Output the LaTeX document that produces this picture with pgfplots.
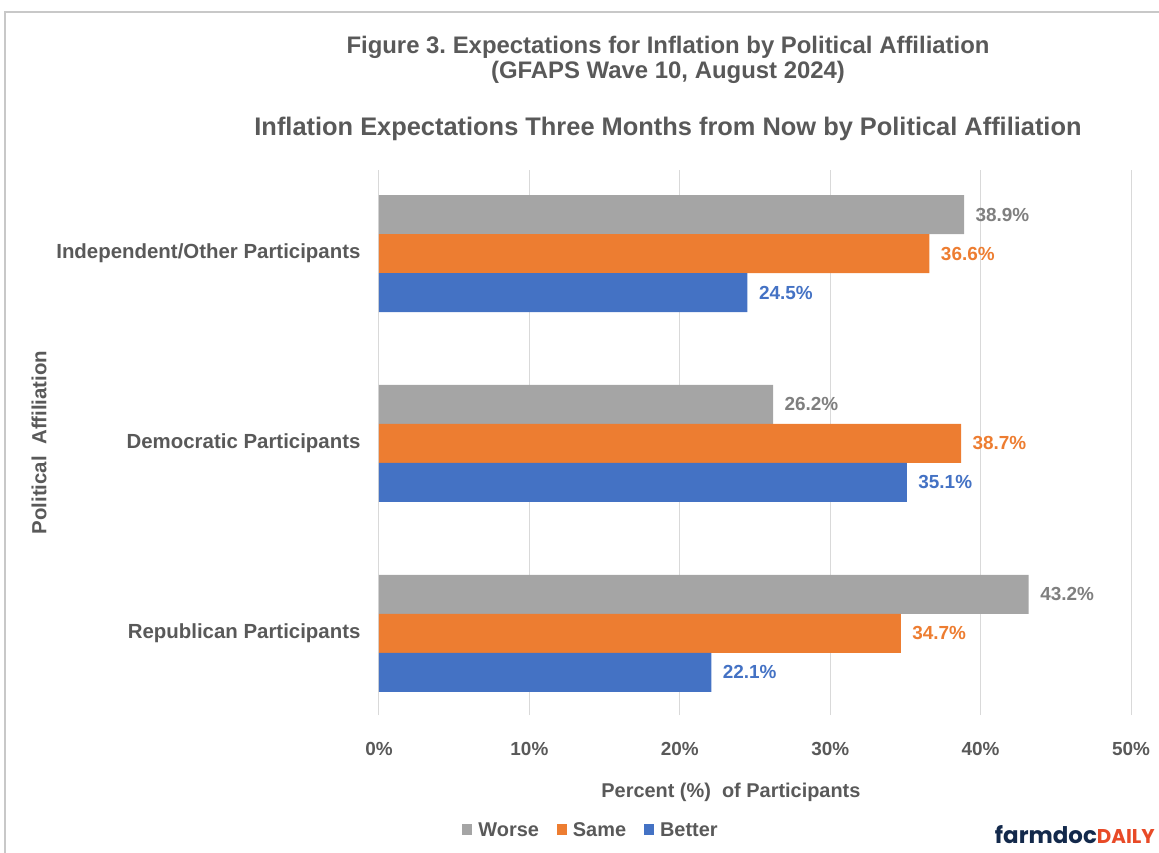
\documentclass[border=0pt]{standalone}
\usepackage{pgfplots}
\pgfplotsset{compat=1.18}
\usepackage{fontspec}
\setmainfont{Liberation Sans}
\newfontfamily\logofont{Poppins}
\definecolor{cworse}{HTML}{A5A5A5}
\definecolor{csame}{HTML}{ED7D31}
\definecolor{cbetter}{HTML}{4472C4}
\definecolor{ctxt}{HTML}{595959}
\definecolor{cworselab}{HTML}{7F7F7F}
\definecolor{cgrid}{HTML}{D9D9D9}
\definecolor{cframe}{HTML}{C8C8C8}
\definecolor{cnavy}{HTML}{13294B}
\definecolor{clogo}{HTML}{E84A27}
\frenchspacing
\begin{document}
\begin{tikzpicture}[x=1bp,y=1bp]
% pixel (px,py) -> (px-379, 715-py)
\useasboundingbox (-379,-138) rectangle (780,715);
\draw[cframe, line width=1.5bp] (-374,-140) -- (-374,703) -- (782,703);
\begin{axis}[
  at={(0,0)}, anchor=south west,
  scale only axis, width=752bp, height=545bp,
  xbar, bar width=39bp,
  xmin=0, xmax=50, ymin=-0.43, ymax=2.44,
  xtick={0,10,20,30,40,50},
  xticklabels={0\%,10\%,20\%,30\%,40\%,50\%},
  ytick={0,1,2},
  yticklabels={Republican Participants,Democratic Participants,Independent/Other Participants},
  axis line style={draw=none},
  major tick length=0pt,
  xmajorgrids, grid style={cgrid, line width=1bp},
  xticklabel style={font=\fontsize{19}{22}\selectfont\bfseries, text=ctxt, yshift=-24bp},
  yticklabel style={font=\fontsize{20.5}{24}\selectfont\bfseries, text=ctxt, xshift=-15bp},
  xlabel={Percent (\%)~ of Participants},
  xlabel style={font=\fontsize{20}{24}\selectfont\bfseries, text=ctxt, at={(rel axis cs:0.468,-0.142)}, anchor=center},
  ylabel={Political~ Affiliation},
  ylabel style={font=\fontsize{20.5}{24}\selectfont\bfseries, text=ctxt, at={(rel axis cs:-0.452,0.5)}, anchor=center, rotate=0},
  nodes near coords={\pgfmathprintnumber[fixed,precision=1,zerofill,assume math mode=true]{\pgfplotspointmeta}\%},
  nodes near coords style={font=\fontsize{19}{22}\selectfont\bfseries, anchor=west, xshift=8bp},
  legend columns=3,
  legend style={draw=none, at={(rel axis cs:0.282,-0.211)}, anchor=center,
    font=\fontsize{20}{24}\selectfont\bfseries, text=ctxt,
    /tikz/every odd column/.append style={column sep=4bp},
    /tikz/every even column/.append style={column sep=16bp}},
  legend image code/.code={\fill[#1] (0bp,-5.5bp) rectangle (10bp,5.5bp);},
]
\addplot[fill=cworse, draw=none, bar shift=39bp, nodes near coords style={text=cworselab}] coordinates {(43.2,0) (26.2,1) (38.9,2)};
\addplot[fill=csame, draw=none, bar shift=0bp, nodes near coords style={text=csame}] coordinates {(34.7,0) (38.7,1) (36.6,2)};
\addplot[fill=cbetter, draw=none, bar shift=-39bp, nodes near coords style={text=cbetter}] coordinates {(22.1,0) (35.1,1) (24.5,2)};
\legend{Worse,Same,Better}
\end{axis}
\node[font=\fontsize{24}{28}\selectfont\bfseries, text=ctxt, align=center] at (289,655) {Figure 3. Expectations for Inflation by Political Affiliation\\[-3bp](GFAPS Wave 10, August 2024)};
\node[font=\fontsize{25.5}{28}\selectfont\bfseries, text=ctxt] at (289,586) {Inflation Expectations Three Months from Now by Political Affiliation};
\node[anchor=base east, font=\logofont\fontsize{23}{26}\selectfont\bfseries, inner sep=0pt] at (776,-129) {\textcolor{cnavy}{farmdoc}\textcolor{clogo}{\fontsize{20}{22}\selectfont DAILY}};
\end{tikzpicture}
\end{document}
